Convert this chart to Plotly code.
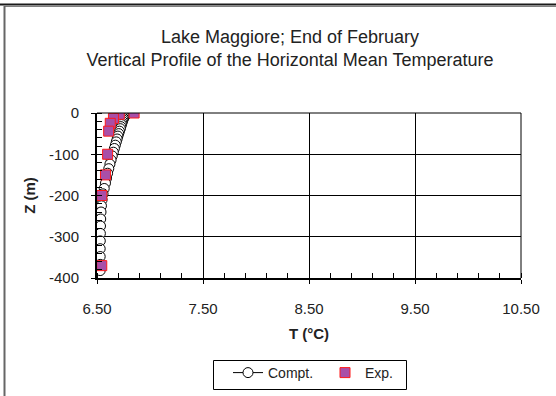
import plotly.graph_objects as go

# Computed profile
comp_z = [0, -2, -4, -6, -8, -10, -13, -16, -20, -24, -28, -33, -38, -44, -50, -56, -63, -70, -78,
          -86, -95, -104, -114, -124, -135, -146, -158, -170, -183, -196, -210, -225, -240, -257,
          -274, -292, -310, -329, -348, -367, -382]
comp_t = [6.78, 6.775, 6.77, 6.765, 6.76, 6.755, 6.75, 6.745, 6.74, 6.735, 6.73, 6.725, 6.72, 6.712,
          6.705, 6.697, 6.69, 6.682, 6.673, 6.664, 6.654, 6.644, 6.633, 6.622, 6.611, 6.6, 6.59,
          6.58, 6.568, 6.557, 6.548, 6.542, 6.538, 6.535, 6.533, 6.532, 6.531, 6.53, 6.53, 6.53, 6.53]

# Experimental
exp_z = [0, -3, -13, -25, -44, -100, -150, -200, -370]
exp_t = [6.85, 6.71, 6.655, 6.625, 6.61, 6.6, 6.58, 6.545, 6.545]

x_ticks = [6.5, 7.5, 8.5, 9.5, 10.5]
x_labels = ["6.50", "7.50", "8.50", "9.50", "10.50"]
y_ticks = [0, -100, -200, -300, -400]
y_labels = ["0", "-100", "-200", "-300", "-400"]

FONT = "Liberation Sans, Arial, sans-serif"
TXT = "#222222"

fig = go.Figure()
fig.add_trace(go.Scatter(
    x=comp_t, y=comp_z, mode="lines+markers", name="Compt.",
    line=dict(color="black", width=1),
    marker=dict(symbol="circle", size=10, color="white", line=dict(color="black", width=1)),
))
fig.add_trace(go.Scatter(
    x=exp_t, y=exp_z, mode="markers", name="Exp.",
    marker=dict(symbol="square", size=10, color="#A94FA8", line=dict(color="#FF1A1A", width=1)),
))

L, R, T, B = 97, 35, 113, 118
W, H = 556, 396
pw, ph = W - L - R, H - T - B

def px(x):
    return (x - L) / pw

def py(y):
    return (H - B - y) / ph

shapes = [
    # outer frame: top (dark + grey) and left
    dict(type="line", xref="paper", yref="paper", x0=px(0), x1=px(W), y0=py(4.5), y1=py(4.5),
         line=dict(color="#1a1a1a", width=2)),
    dict(type="line", xref="paper", yref="paper", x0=px(4), x1=px(W), y0=py(6.5), y1=py(6.5),
         line=dict(color="#808080", width=1)),
    dict(type="line", xref="paper", yref="paper", x0=px(4.5), x1=px(4.5), y0=py(6), y1=py(H + 5),
         line=dict(color="#666666", width=2)),
    # plot box top & right
    dict(type="line", xref="paper", yref="paper", x0=0, x1=1, y0=1, y1=1,
         line=dict(color="black", width=1)),
    dict(type="line", xref="paper", yref="paper", x0=1, x1=1, y0=0, y1=1,
         line=dict(color="black", width=1)),
    # legend frame
    dict(type="rect", xref="paper", yref="paper", x0=px(213.5), x1=px(406.5), y0=py(389.5), y1=py(360.5),
         line=dict(color="black", width=1), fillcolor="rgba(0,0,0,0)"),
]

fig.update_layout(
    width=W, height=H,
    margin=dict(l=L, r=R, t=T, b=B),
    paper_bgcolor="white", plot_bgcolor="white",
    font=dict(family=FONT, size=15, color=TXT),
    title=dict(
        text="Lake Maggiore; End of February<br>Vertical Profile of the Horizontal Mean Temperature",
        x=290 / W, xref="container", xanchor="center", y=1 - 43 / H, yanchor="middle",
        font=dict(family=FONT, size=18, color=TXT),
    ),
    xaxis=dict(
        range=[6.5, 10.5], tickvals=x_ticks, ticktext=x_labels,
        showgrid=True, gridcolor="black", gridwidth=1,
        showline=True, linecolor="black", linewidth=2,
        ticks="outside", ticklen=4, tickcolor="black", tickwidth=1,
        ticklabelstandoff=12,
        minor=dict(dtick=0.2, tick0=6.5, ticks="inside", ticklen=5, tickcolor="black", showgrid=False),
        zeroline=False, automargin=False,
        title=dict(text="<b>T (°C)</b>", font=dict(family=FONT, size=15, color=TXT), standoff=12),
        tickfont=dict(family=FONT, size=15, color=TXT),
    ),
    yaxis=dict(
        range=[-400, 0], tickvals=y_ticks, ticktext=y_labels,
        showgrid=True, gridcolor="black", gridwidth=1,
        showline=True, linecolor="black", linewidth=2,
        ticks="outside", ticklen=4, tickcolor="black", tickwidth=1,
        ticklabelstandoff=9,
        minor=dict(dtick=20, tick0=0, ticks="inside", ticklen=5, tickcolor="black", showgrid=False),
        zeroline=False, automargin=False,
        title=dict(text="<b>Z (m)</b>", font=dict(family=FONT, size=15, color=TXT), standoff=10),
        tickfont=dict(family=FONT, size=15, color=TXT),
    ),
    showlegend=True,
    legend=dict(
        orientation="h", xref="container", yref="container",
        x=325 / W, xanchor="center", y=1 - 357 / H, yanchor="top",
        borderwidth=0, bgcolor="rgba(0,0,0,0)",
        font=dict(family=FONT, size=14, color=TXT),
        itemwidth=30, entrywidth=52, entrywidthmode="pixels",
    ),
    shapes=shapes,
)

fig.write_html("out.html")
